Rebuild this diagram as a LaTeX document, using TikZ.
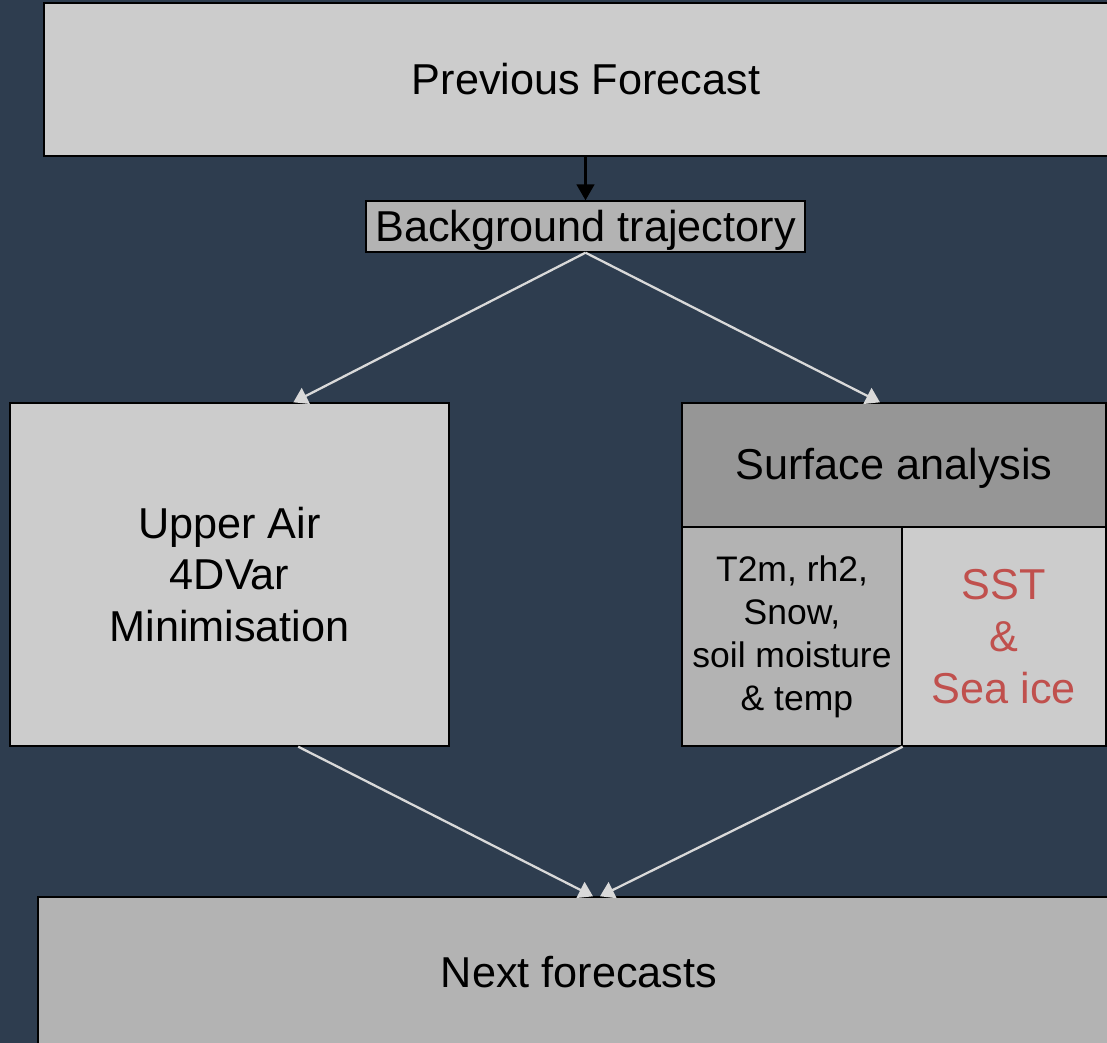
\documentclass[tikz,border=0pt]{standalone}
\usepackage{fontspec}
\setmainfont{Liberation Sans}
\usepackage{tikz}
\usetikzlibrary{arrows.meta, calc}
\definecolor{slate}{HTML}{2E3D4F}
\definecolor{boxlight}{HTML}{CCCCCC}
\definecolor{boxmid}{HTML}{B3B3B3}
\definecolor{boxdark}{HTML}{969696}
\definecolor{seared}{HTML}{C0504D}
\definecolor{flowgray}{HTML}{D9D9D9}
\tikzstyle{panel} = [rectangle, draw=black, line width=0.8pt, inner sep=0pt,
    align=center, font=\fontsize{24.6}{29.5}\selectfont]
\tikzstyle{oneline} = [panel, text height=19pt, text depth=2pt]
\tikzstyle{smallpanel} = [panel, font=\fontsize{20.2}{24.5}\selectfont]
\tikzstyle{line} = [draw, line width=1.3pt, flowgray, -{Triangle[width=10pt, length=8pt]}]
\tikzstyle{blackline} = [draw, line width=1.3pt, black, -{Triangle[width=10pt, length=9pt]}]

\begin{document}
\begin{tikzpicture}[x=0.02cm, y=-0.02cm]
    \fill [slate] (0,0) rectangle (1107,1043);
    \useasboundingbox (0,0) rectangle (1107,1043);
    \begin{scope}
    \clip (0,0) rectangle (1107,1043);
    % Nodes
    \node [oneline, fill=boxlight, minimum width=21.68cm, minimum height=3.06cm] (prev) at (586,79.5) {Previous Forecast};
    \node [oneline, fill=boxmid, minimum width=8.78cm, minimum height=1.02cm] (bgtraj) at (585.5,226.5) {Background trajectory};
    \node [panel, fill=boxlight, minimum width=8.78cm, minimum height=6.86cm] (upper) at (229.5,574.5) {Upper Air\\4DVar\\Minimisation};
    \node [oneline, fill=boxdark, minimum width=8.48cm, minimum height=2.48cm] (surface) at (894,465) {Surface analysis};
    \node [smallpanel, fill=boxmid, minimum width=4.4cm, minimum height=4.38cm] (land) at (792,636.5) {T2m, rh2,\\Snow,\\soil moisture\\\ \& temp};
    \node [panel, fill=boxlight, text=seared, minimum width=4.08cm, minimum height=4.38cm] (sst) at (1004,636.5) {SST\\\&\\Sea ice};
    \node [oneline, fill=boxmid, minimum width=21.64cm, minimum height=3.04cm] (next) at (579,973) {Next forecasts};
    \end{scope}
    % Edges
    \path [blackline] (prev.south -| bgtraj.north) -- (bgtraj.north);
    \path [line] (bgtraj.south) -- ($(upper.north west)!0.645!(upper.north east)$);
    \path [line] (bgtraj.south) -- ($(surface.north west)!0.467!(surface.north east)$);
    \path [line] ($(upper.south west)!0.656!(upper.south east)$) -- ($(next.north)+(14,0)$);
    \path [line] (land.south east) -- ($(next.north)+(21,0)$);
\end{tikzpicture}
\end{document}
